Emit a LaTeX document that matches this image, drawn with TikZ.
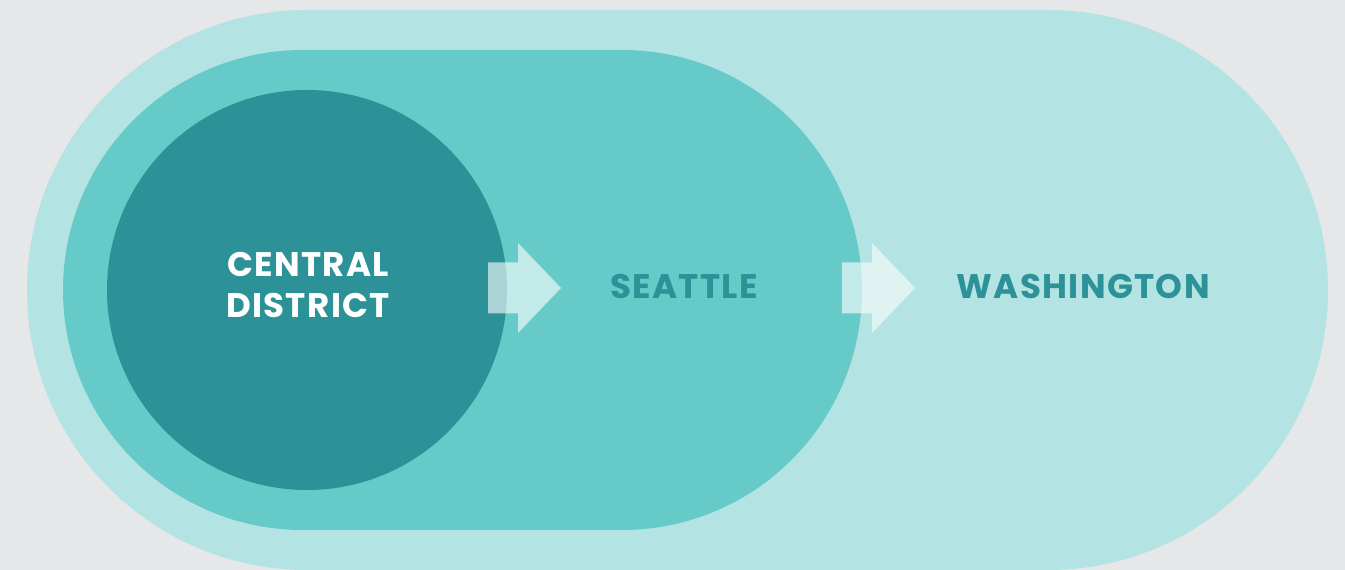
\documentclass[tikz,border=0pt]{standalone}
\usepackage{fontspec}
\setmainfont{Poppins}
\usepackage{tikz}
\usetikzlibrary{positioning}
\definecolor{bggray}{HTML}{E6E7E9}
\definecolor{paleteal}{HTML}{B3E3E3}
\definecolor{midteal}{HTML}{66CBC8}
\definecolor{darkteal}{HTML}{2C9297}
\tikzset{
  label text/.style={font=\fontsize{19.4}{22.8}\selectfont\bfseries\addfontfeatures{LetterSpace=4}, align=center, inner sep=0pt},
  block arrow/.style={fill=white, fill opacity=0.6}
}
\newcommand{\stadium}[4]{
  % left end, right end, half height, colour
  \fill[#4] (#1,280) ++(0,#3) -- ($(#2,280)+(0,#3)$) arc(90:-90:#3) -- ($(#1,280)-(0,#3)$) arc(270:90:#3) -- cycle;
}
\newcommand{\blockarrow}[1]{
  \begin{scope}[xshift=#1*0.02cm]
    \fill[block arrow] (0,256.5) -- (30,256.5) -- (30,237) -- (73,282) -- (30,327) -- (30,307.5) -- (0,307.5) -- cycle;
  \end{scope}
}
\usetikzlibrary{calc}
\begin{document}
\begin{tikzpicture}[x=0.02cm,y=0.02cm]

  \fill[bggray] (0,0) rectangle (1345,570);
  \useasboundingbox (0,0) rectangle (1345,570);

  % the three areas
  \stadium{307}{1048}{280}{paleteal}
  \stadium{303}{622}{240}{midteal}
  \fill[darkteal] (307,280) circle (200);

  \blockarrow{488}
  \blockarrow{842}

  \node[label text, text=white] (central) at (308,285) {CENTRAL\\DISTRICT};
  \node[label text, text=darkteal, anchor=base] (seattle) at (684,271.5) {SEATTLE};
  \node[label text, text=darkteal, anchor=base] (washington) at (1083,271.5) {WASHINGTON};

\end{tikzpicture}
\end{document}
